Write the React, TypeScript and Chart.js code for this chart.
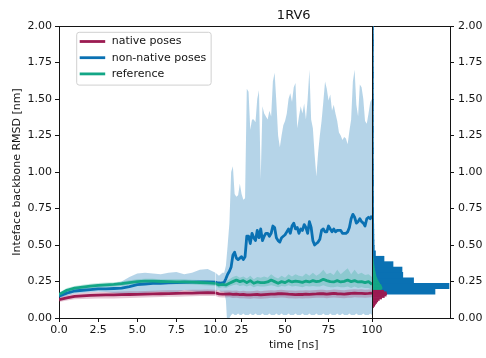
import React, { useEffect, useRef } from 'react';
import { Chart, registerables } from 'chart.js';

Chart.register(...registerables);

// ---------------- text ----------------
const CHART_TITLE = '1RV6';
const X_TITLE = 'time [ns]';
const Y_TITLE = 'Inteface backbone RMSD [nm]';
const NATIVE_LABEL = 'native poses';
const NON_NATIVE_LABEL = 'non-native poses';
const REFERENCE_LABEL = 'reference';

// ---------------- ticks ----------------
const EARLY_TIME_TICKS = [0, 2.5, 5, 7.5, 10];
const LATE_TIME_TICKS = [25, 50, 75, 100];
const RMSD_TICKS = [0, 0.25, 0.5, 0.75, 1, 1.25, 1.5, 1.75, 2];

// ---------------- time axes (ns) ----------------
const TIME_EARLY = [0, 0.5, 1, 1.5, 2, 2.5, 3, 3.5, 4, 4.5, 5, 5.5, 6, 6.5, 7, 7.5, 8, 8.5, 9, 9.5, 10];
const TIME_LATE = [
  10, 11, 12, 13, 14, 15, 16, 17, 18, 19, 20,
  21, 22, 23, 24, 25, 26, 27, 28, 29, 30,
  31, 32, 33, 34, 35, 36, 37, 38, 39, 40,
  41, 42, 43, 44, 45, 46, 47, 48, 49, 50,
  51, 52, 53, 54, 55, 56, 57, 58, 59, 60,
  61, 62, 63, 64, 65, 66, 67, 68, 69, 70,
  71, 72, 73, 74, 75, 76, 77, 78, 79, 80,
  81, 82, 83, 84, 85, 86, 87, 88, 89, 90,
  91, 92, 93, 94, 95, 96, 97, 98, 99, 100,
];
const TIME_LATE_COARSE = [
  10, 12, 14, 16, 18, 20, 22, 24, 26, 28, 30, 32, 34, 36, 38, 40, 42, 44, 46, 48, 50, 52, 54,
  56, 58, 60, 62, 64, 66, 68, 70, 72, 74, 76, 78, 80, 82, 84, 86, 88, 90, 92, 94, 96, 98, 100,
];

// ---------------- native poses ----------------
const NATIVE_MEAN_EARLY = [0.125, 0.138, 0.148, 0.152, 0.155, 0.157, 0.158, 0.158, 0.160, 0.161, 0.162, 0.163, 0.165, 0.166, 0.167, 0.168, 0.170, 0.171, 0.172, 0.173, 0.172];
const NATIVE_UPPER_EARLY = [0.140, 0.155, 0.166, 0.172, 0.176, 0.178, 0.180, 0.180, 0.182, 0.183, 0.184, 0.185, 0.187, 0.188, 0.190, 0.190, 0.192, 0.193, 0.194, 0.195, 0.194];
const NATIVE_LOWER_EARLY = [0.110, 0.120, 0.128, 0.130, 0.132, 0.133, 0.134, 0.133, 0.136, 0.137, 0.138, 0.140, 0.142, 0.144, 0.145, 0.146, 0.148, 0.149, 0.150, 0.151, 0.150];
const NATIVE_MEAN_LATE = [0.172, 0.165, 0.163, 0.164, 0.165, 0.162, 0.163, 0.160, 0.161, 0.159, 0.158, 0.160, 0.161, 0.158, 0.160, 0.162, 0.164, 0.163, 0.166, 0.167, 0.165, 0.163, 0.162, 0.160, 0.162, 0.161, 0.163, 0.162, 0.164, 0.165, 0.167, 0.166, 0.164, 0.166, 0.168, 0.166, 0.165, 0.164, 0.166, 0.168, 0.170, 0.168, 0.169, 0.167, 0.168, 0.170];
const NATIVE_UPPER_LATE = [0.194, 0.188, 0.186, 0.188, 0.188, 0.186, 0.188, 0.184, 0.186, 0.183, 0.183, 0.185, 0.188, 0.184, 0.186, 0.188, 0.190, 0.188, 0.192, 0.193, 0.190, 0.188, 0.188, 0.186, 0.188, 0.188, 0.190, 0.188, 0.190, 0.192, 0.194, 0.193, 0.190, 0.192, 0.195, 0.193, 0.192, 0.190, 0.193, 0.195, 0.197, 0.195, 0.197, 0.194, 0.195, 0.197];
const NATIVE_LOWER_LATE = [0.150, 0.142, 0.140, 0.140, 0.142, 0.137, 0.138, 0.135, 0.136, 0.134, 0.132, 0.135, 0.134, 0.132, 0.134, 0.136, 0.138, 0.137, 0.139, 0.140, 0.138, 0.136, 0.135, 0.133, 0.135, 0.134, 0.136, 0.135, 0.137, 0.138, 0.139, 0.138, 0.136, 0.138, 0.140, 0.138, 0.137, 0.136, 0.138, 0.139, 0.142, 0.140, 0.141, 0.139, 0.140, 0.142];

// ---------------- non-native poses ----------------
const NON_NATIVE_MEAN_EARLY = [0.150, 0.170, 0.185, 0.190, 0.195, 0.200, 0.200, 0.202, 0.205, 0.215, 0.228, 0.233, 0.237, 0.238, 0.240, 0.242, 0.245, 0.246, 0.247, 0.248, 0.246];
const NON_NATIVE_UPPER_EARLY = [0.170, 0.190, 0.205, 0.210, 0.215, 0.220, 0.225, 0.235, 0.250, 0.280, 0.305, 0.310, 0.305, 0.300, 0.310, 0.315, 0.300, 0.310, 0.330, 0.335, 0.310];
const NON_NATIVE_LOWER_EARLY = [0.135, 0.152, 0.166, 0.172, 0.176, 0.180, 0.178, 0.172, 0.165, 0.160, 0.165, 0.172, 0.178, 0.180, 0.178, 0.176, 0.190, 0.185, 0.175, 0.172, 0.182];
const NON_NATIVE_MEAN_LATE = [
  0.246, 0.240, 0.240, 0.238, 0.240, 0.245, 0.270, 0.300, 0.320, 0.350, 0.430,
  0.450, 0.410, 0.400, 0.410, 0.420, 0.400, 0.420, 0.560, 0.560, 0.510,
  0.580, 0.550, 0.530, 0.600, 0.550, 0.610, 0.530, 0.560, 0.580, 0.580,
  0.560, 0.580, 0.630, 0.620, 0.550, 0.530, 0.520, 0.550, 0.560, 0.570,
  0.590, 0.610, 0.580, 0.630, 0.650, 0.610, 0.620, 0.580, 0.610, 0.600,
  0.640, 0.620, 0.580, 0.660, 0.620, 0.530, 0.500, 0.510, 0.520, 0.540,
  0.600, 0.610, 0.590, 0.590, 0.630, 0.610, 0.590, 0.610, 0.590, 0.600,
  0.600, 0.600, 0.580, 0.580, 0.580, 0.590, 0.620, 0.680, 0.710, 0.690,
  0.650, 0.660, 0.680, 0.660, 0.650, 0.630, 0.680, 0.690, 0.680, 0.700,
];
const NON_NATIVE_UPPER_LATE = [
  0.31, 0.30, 0.29, 0.30, 0.31, 0.31, 0.36, 0.50, 0.65, 1.00, 1.04,
  0.85, 0.83, 0.84, 0.92, 0.85, 0.81, 0.82, 1.57, 1.55, 1.29,
  1.36, 1.36, 1.34, 1.50, 1.56, 0.95, 1.45, 1.40, 1.38, 1.36,
  1.42, 1.38, 1.62, 1.68, 1.48, 1.25, 1.17, 1.25, 1.32, 1.35,
  1.40, 1.50, 1.54, 1.48, 1.58, 1.61, 1.30, 1.38, 1.45, 1.40,
  1.47, 1.36, 1.50, 1.70, 1.36, 1.30, 1.12, 0.97, 1.13, 1.25,
  1.35, 1.48, 1.62, 1.57, 1.49, 1.53, 1.42, 1.46, 1.40, 1.35,
  1.27, 1.25, 1.22, 1.24, 1.23, 1.19, 1.28, 1.36, 1.62, 1.70,
  1.46, 1.38, 1.60, 1.58, 1.50, 1.35, 1.33, 1.40, 1.48, 1.50,
];
const NON_NATIVE_LOWER_LATE = [
  0.182, 0.19, 0.19, 0.18, 0.18, 0.18, 0.12, -0.10, 0.00, 0.02, 0.03,
  0.02, 0.02, 0.03, 0.02, 0.02, 0.03, 0.02, 0.02, 0.02, 0.03,
  0.02, 0.02, 0.03, 0.02, 0.02, 0.02, 0.03, 0.02, 0.02, 0.02,
  0.03, 0.02, 0.02, 0.02, 0.03, 0.02, 0.02, 0.03, 0.02, 0.02,
  0.02, 0.03, 0.02, 0.02, 0.02, 0.03, 0.02, 0.02, 0.02, 0.03,
  0.02, 0.02, 0.02, 0.03, 0.02, 0.02, 0.02, 0.03, 0.02, 0.02,
  0.02, 0.03, 0.02, 0.02, 0.02, 0.03, 0.02, 0.02, 0.02, 0.03,
  0.02, 0.02, 0.03, 0.02, 0.02, 0.02, 0.03, 0.02, 0.02, 0.02,
  0.03, 0.02, 0.02, 0.02, 0.03, 0.02, 0.02, 0.02, 0.03, 0.02,
];

// ---------------- reference ----------------
const REFERENCE_MEAN_EARLY = [0.160, 0.190, 0.205, 0.212, 0.218, 0.224, 0.227, 0.230, 0.235, 0.243, 0.249, 0.252, 0.252, 0.250, 0.249, 0.248, 0.248, 0.246, 0.243, 0.240, 0.237];
const REFERENCE_UPPER_EARLY = [0.175, 0.205, 0.220, 0.228, 0.235, 0.240, 0.243, 0.245, 0.250, 0.258, 0.265, 0.268, 0.268, 0.266, 0.265, 0.266, 0.265, 0.262, 0.260, 0.257, 0.255];
const REFERENCE_LOWER_EARLY = [0.145, 0.175, 0.190, 0.197, 0.202, 0.208, 0.211, 0.215, 0.220, 0.228, 0.233, 0.236, 0.236, 0.234, 0.233, 0.231, 0.231, 0.230, 0.226, 0.223, 0.220];
const REFERENCE_MEAN_LATE = [0.237, 0.226, 0.231, 0.226, 0.238, 0.249, 0.260, 0.249, 0.256, 0.242, 0.256, 0.238, 0.247, 0.242, 0.242, 0.247, 0.260, 0.249, 0.238, 0.249, 0.242, 0.256, 0.247, 0.253, 0.249, 0.244, 0.253, 0.247, 0.256, 0.249, 0.253, 0.265, 0.256, 0.249, 0.247, 0.256, 0.247, 0.251, 0.260, 0.249, 0.256, 0.247, 0.249, 0.242, 0.249, 0.231];
const REFERENCE_UPPER_LATE = [0.255, 0.245, 0.25, 0.25, 0.265, 0.28, 0.29, 0.275, 0.285, 0.27, 0.29, 0.265, 0.28, 0.275, 0.285, 0.275, 0.30, 0.28, 0.27, 0.29, 0.275, 0.30, 0.285, 0.30, 0.29, 0.285, 0.305, 0.29, 0.31, 0.29, 0.305, 0.33, 0.30, 0.31, 0.295, 0.33, 0.30, 0.32, 0.34, 0.30, 0.33, 0.30, 0.31, 0.295, 0.30, 0.28];
const REFERENCE_LOWER_LATE = [0.22, 0.205, 0.21, 0.205, 0.215, 0.225, 0.23, 0.22, 0.225, 0.215, 0.225, 0.21, 0.22, 0.215, 0.215, 0.22, 0.225, 0.22, 0.21, 0.22, 0.215, 0.225, 0.215, 0.22, 0.215, 0.21, 0.22, 0.215, 0.22, 0.215, 0.215, 0.225, 0.215, 0.21, 0.21, 0.215, 0.21, 0.21, 0.215, 0.205, 0.215, 0.205, 0.21, 0.205, 0.205, 0.195];

// ---------------- RMSD histograms (bin centre, count) ----------------
const NON_NATIVE_HIST_BINS = [
  0.1825, 0.2195, 0.2565, 0.2935, 0.3305, 0.3675, 0.4045, 0.4415, 0.4785, 0.5155,
  0.5525, 0.5895, 0.6265, 0.6635, 0.7005, 0.7375, 0.7745, 0.8115, 0.8485, 0.8855,
  0.9225, 0.9595, 0.9965, 1.0335, 1.0705, 1.1075, 1.1445, 1.1815, 1.2185, 1.2555,
  1.2925, 1.3295, 1.3665, 1.4035, 1.4405, 1.4775, 1.5145, 1.5515, 1.5885, 1.6255,
  1.6625, 1.6995, 1.7365, 1.7735, 1.8105, 1.8475, 1.8845, 1.9215, 1.9585, 1.9955,
];
const NON_NATIVE_HIST_COUNTS = [
  818, 1000, 540, 400, 390, 273, 156, 45, 30, 27,
  25, 24, 23, 22, 21, 22, 20, 21, 20, 19,
  21, 20, 19, 20, 19, 18, 20, 19, 18, 19,
  20, 18, 19, 18, 19, 20, 19, 18, 19, 18,
  20, 19, 18, 19, 18, 19, 20, 19, 18, 19,
];
const NATIVE_HIST_BINS = [0.065, 0.075, 0.085, 0.095, 0.105, 0.115, 0.125, 0.135, 0.145, 0.155, 0.165, 0.175, 0.185];
const NATIVE_HIST_COUNTS = [10, 20, 35, 45, 60, 75, 95, 125, 160, 185, 190, 185, 150];
const REFERENCE_HIST_BINS = [0.165, 0.175, 0.185, 0.195, 0.205, 0.215, 0.225, 0.235, 0.245, 0.255, 0.265, 0.275, 0.285, 0.295, 0.305, 0.315, 0.325, 0.335, 0.345, 0.355, 0.365, 0.375, 0.385, 0.395, 0.405, 0.415, 0.425];
const REFERENCE_HIST_COUNTS = [30, 60, 95, 120, 130, 125, 115, 100, 88, 78, 68, 60, 52, 48, 44, 40, 36, 33, 30, 27, 24, 21, 18, 16, 14, 12, 10];

// ---------------- styles ----------------
const FONT = "'DejaVu Sans', sans-serif";
const INK = '#141414';
const NATIVE_COLOR = '#9b1b52';
const NON_NATIVE_COLOR = '#0a71b3';
const REFERENCE_COLOR = '#13a686';
const NATIVE_BAND = 'rgba(155, 27, 82, 0.25)';
const NON_NATIVE_BAND = 'rgba(10, 113, 179, 0.30)';
const REFERENCE_BAND = 'rgba(19, 166, 134, 0.25)';
const NON_NATIVE_BAR_PX = 5.4;
const FINE_BAR_PX = 1.46;

const toPoints = (times: number[], values: number[]) => times.map((t, i) => ({ x: t, y: values[i] }));

function seriesDatasets(
  label: string, color: string, band: string, xAxisID: string,
  times: number[], mean: number[], upper: number[], lower: number[],
  bandOrder: number, lineOrder: number, legendEntry: boolean,
) {
  const common = { type: 'line', xAxisID, yAxisID: 'y', pointRadius: 0, pointHoverRadius: 0, tension: 0 };
  return [
    { ...common, label: label + ' (lower)', data: toPoints(times, lower), borderWidth: 0, borderColor: 'rgba(0,0,0,0)', fill: false, order: bandOrder },
    { ...common, label: label + ' (upper)', data: toPoints(times, upper), borderWidth: 0, borderColor: 'rgba(0,0,0,0)', backgroundColor: band, fill: '-1', order: bandOrder },
    { ...common, label, data: toPoints(times, mean), borderColor: color, borderWidth: 2.8, borderJoinStyle: 'round', fill: false, order: lineOrder, legendEntry },
  ];
}

function histDataset(label: string, color: string, bins: number[], counts: number[], thickness: number, order: number) {
  return {
    type: 'bar', label, indexAxis: 'y', xAxisID: 'xh', yAxisID: 'yr', grouped: false,
    data: bins.map((b, i) => ({ x: counts[i], y: b })),
    backgroundColor: color, borderWidth: 0, barThickness: thickness, order,
  };
}

const legendBoxPlugin = {
  id: 'legendBox',
  afterDraw(chart: any, _args: any, opts: any) {
    const { ctx, chartArea } = chart;
    const items = chart.data.datasets.filter((d: any) => d.legendEntry);
    ctx.save();
    ctx.font = `${opts.fontSize}px ${FONT}`;
    const textW = Math.max(...items.map((d: any) => ctx.measureText(d.label).width));
    const x = chartArea.left + opts.offsetX;
    const y = chartArea.top + opts.offsetY;
    const w = opts.textX + textW + opts.padRight;
    const h = opts.firstRow + (items.length - 1) * opts.rowGap + opts.lastPad;
    const r = 2.5;
    ctx.beginPath();
    ctx.moveTo(x + r, y);
    ctx.lineTo(x + w - r, y);
    ctx.arcTo(x + w, y, x + w, y + r, r);
    ctx.lineTo(x + w, y + h - r);
    ctx.arcTo(x + w, y + h, x + w - r, y + h, r);
    ctx.lineTo(x + r, y + h);
    ctx.arcTo(x, y + h, x, y + h - r, r);
    ctx.lineTo(x, y + r);
    ctx.arcTo(x, y, x + r, y, r);
    ctx.closePath();
    ctx.fillStyle = 'rgba(255,255,255,0.85)';
    ctx.fill();
    ctx.lineWidth = 1;
    ctx.strokeStyle = '#d0d0d0';
    ctx.stroke();
    items.forEach((d: any, i: number) => {
      const cy = y + opts.firstRow + i * opts.rowGap;
      ctx.beginPath();
      ctx.strokeStyle = d.borderColor;
      ctx.lineWidth = d.borderWidth;
      ctx.lineCap = 'butt';
      ctx.moveTo(x + opts.handleX, cy);
      ctx.lineTo(x + opts.handleX + opts.handleLen, cy);
      ctx.stroke();
      ctx.fillStyle = INK;
      ctx.textBaseline = 'middle';
      ctx.textAlign = 'left';
      ctx.fillText(d.label, x + opts.textX, cy);
    });
    ctx.restore();
  },
};

function buildConfig(): any {
  const datasets: any[] = [
    ...seriesDatasets(NATIVE_LABEL, NATIVE_COLOR, NATIVE_BAND, 'x0', TIME_EARLY, NATIVE_MEAN_EARLY, NATIVE_UPPER_EARLY, NATIVE_LOWER_EARLY, 29, 22, true),
    ...seriesDatasets(NON_NATIVE_LABEL, NON_NATIVE_COLOR, NON_NATIVE_BAND, 'x0', TIME_EARLY, NON_NATIVE_MEAN_EARLY, NON_NATIVE_UPPER_EARLY, NON_NATIVE_LOWER_EARLY, 30, 21, true),
    ...seriesDatasets(REFERENCE_LABEL, REFERENCE_COLOR, REFERENCE_BAND, 'x0', TIME_EARLY, REFERENCE_MEAN_EARLY, REFERENCE_UPPER_EARLY, REFERENCE_LOWER_EARLY, 28, 20, true),
    ...seriesDatasets(NATIVE_LABEL, NATIVE_COLOR, NATIVE_BAND, 'x1', TIME_LATE_COARSE, NATIVE_MEAN_LATE, NATIVE_UPPER_LATE, NATIVE_LOWER_LATE, 29, 22, false),
    ...seriesDatasets(NON_NATIVE_LABEL, NON_NATIVE_COLOR, NON_NATIVE_BAND, 'x1', TIME_LATE, NON_NATIVE_MEAN_LATE, NON_NATIVE_UPPER_LATE, NON_NATIVE_LOWER_LATE, 30, 21, false),
    ...seriesDatasets(REFERENCE_LABEL, REFERENCE_COLOR, REFERENCE_BAND, 'x1', TIME_LATE_COARSE, REFERENCE_MEAN_LATE, REFERENCE_UPPER_LATE, REFERENCE_LOWER_LATE, 28, 20, false),
    histDataset(NON_NATIVE_LABEL + ' histogram', NON_NATIVE_COLOR, NON_NATIVE_HIST_BINS, NON_NATIVE_HIST_COUNTS, NON_NATIVE_BAR_PX, 12),
    histDataset(REFERENCE_LABEL + ' histogram', REFERENCE_COLOR, REFERENCE_HIST_BINS, REFERENCE_HIST_COUNTS, FINE_BAR_PX, 11),
    histDataset(NATIVE_LABEL + ' histogram', NATIVE_COLOR, NATIVE_HIST_BINS, NATIVE_HIST_COUNTS, FINE_BAR_PX, 10),
  ];

  const tickFont = { family: FONT, size: 11 };
  const border = { display: true, color: INK, width: 1 };
  const noBorder = { display: false };
  const setTicks = (values: number[]) => (scale: any) => {
    scale.ticks = values.map((value) => ({ value }));
  };
  const bottomHeight = (s: any) => { s.height = 40; };
  const topHeight = (s: any) => { s.height = 26; };
  const titleAxis = (weight: number, stackWeight: number, title?: string) => ({
    type: 'linear', axis: 'x', position: 'top', stack: 'top', stackWeight, weight,
    min: 0, max: 1,
    afterFit: topHeight,
    ticks: { display: false },
    grid: { display: false, drawTicks: false },
    border: noBorder,
    title: title
      ? { display: true, text: title, color: INK, font: { family: FONT, size: 13 }, padding: { top: 7.7, bottom: 2.7 } }
      : { display: false },
  });

  return {
    type: 'line',
    data: { datasets },
    plugins: [legendBoxPlugin],
    options: {
      animation: false,
      responsive: false,
      devicePixelRatio: 1,
      events: [],
      layout: { padding: 0 },
      font: { family: FONT, size: 11 },
      color: INK,
      plugins: {
        legend: { display: false },
        tooltip: { enabled: false },
        title: { display: false },
        legendBox: {
          fontSize: 11, offsetX: 17.7, offsetY: 6.3, handleX: 3, handleLen: 25.5,
          textX: 35, padRight: 5, firstRow: 9.2, rowGap: 16.2, lastPad: 11.2,
        },
      },
      scales: {
        x0: {
          type: 'linear', axis: 'x', position: 'bottom', stack: 'bottom', stackWeight: 156.5, weight: 1,
          min: 0, max: 10, offset: false,
          afterBuildTicks: setTicks(EARLY_TIME_TICKS),
          afterFit: bottomHeight,
          ticks: { font: tickFont, color: INK, padding: 2, autoSkip: false, maxRotation: 0, minRotation: 0, callback: (v: any) => Number(v).toFixed(1) },
          grid: { offset: false, drawOnChartArea: false, drawTicks: true, tickLength: 4, color: INK, tickColor: INK, lineWidth: 1 },
          border,
        },
        x1: {
          type: 'linear', axis: 'x', position: 'bottom', stack: 'bottom', stackWeight: 156.5, weight: 2,
          min: 10, max: 100, offset: false,
          afterBuildTicks: setTicks(LATE_TIME_TICKS),
          afterFit: bottomHeight,
          ticks: { font: tickFont, color: INK, padding: 2, autoSkip: false, maxRotation: 0, minRotation: 0, callback: (v: any) => String(v) },
          grid: {
            z: 1, offset: false, drawOnChartArea: true, drawTicks: true, tickLength: 4, lineWidth: 1, tickColor: INK,
            color: (c: any) => (c.tick && c.tick.value === 100 ? INK : 'rgba(0,0,0,0)'),
          },
          border: { ...border, z: 1 },
          title: { display: true, text: X_TITLE, color: INK, font: tickFont, padding: { top: 0, bottom: 5.9 } },
        },
        xh: {
          type: 'linear', axis: 'x', position: 'bottom', stack: 'bottom', stackWeight: 78, weight: 3,
          min: 0, max: 1013, stacked: false, offset: false,
          afterFit: bottomHeight,
          ticks: { display: false },
          grid: { display: false, drawTicks: false, offset: false },
          border,
        },
        xt0: titleAxis(3, 156.5),
        xt1: titleAxis(2, 156.5, CHART_TITLE),
        xth: titleAxis(1, 78),
        xTop: {
          type: 'linear', axis: 'x', position: 'top', weight: 0,
          min: 0, max: 1,
          afterFit: (s: any) => { s.height = 0; },
          ticks: { display: false },
          grid: { display: false, drawTicks: false },
          border,
        },
        y: {
          type: 'linear', axis: 'y', position: 'left', min: 0, max: 2, offset: false,
          afterBuildTicks: setTicks(RMSD_TICKS),
          afterFit: (s: any) => { s.width = 59; },
          ticks: { font: tickFont, color: INK, padding: 3, callback: (v: any) => Number(v).toFixed(2) },
          grid: { offset: false, drawOnChartArea: false, drawTicks: true, tickLength: 4, color: INK, tickColor: INK, lineWidth: 1 },
          border,
          title: { display: true, text: Y_TITLE, color: INK, font: tickFont, padding: { top: 10.5, bottom: 0 } },
        },
        yr: {
          type: 'linear', axis: 'y', position: 'right', min: 0, max: 2, offset: false,
          afterBuildTicks: setTicks(RMSD_TICKS),
          afterFit: (s: any) => { s.width = 36; },
          ticks: { font: tickFont, color: INK, padding: 4, callback: (v: any) => Number(v).toFixed(2) },
          grid: { offset: false, drawOnChartArea: false, drawTicks: true, tickLength: 4, color: INK, tickColor: INK, lineWidth: 1 },
          border,
        },
      },
    },
  };
}

export default function App() {
  const canvasRef = useRef<HTMLCanvasElement>(null);
  useEffect(() => {
    const canvas = canvasRef.current;
    if (!canvas) return;
    const chart = new Chart(canvas, buildConfig());
    return () => chart.destroy();
  }, []);
  return (
    <div style={{ position: 'absolute', left: 0, top: 0, width: 486, height: 358, background: '#ffffff' }}>
      <canvas ref={canvasRef} width={486} height={358} style={{ display: 'block', width: 486, height: 358 }} />
    </div>
  );
}
